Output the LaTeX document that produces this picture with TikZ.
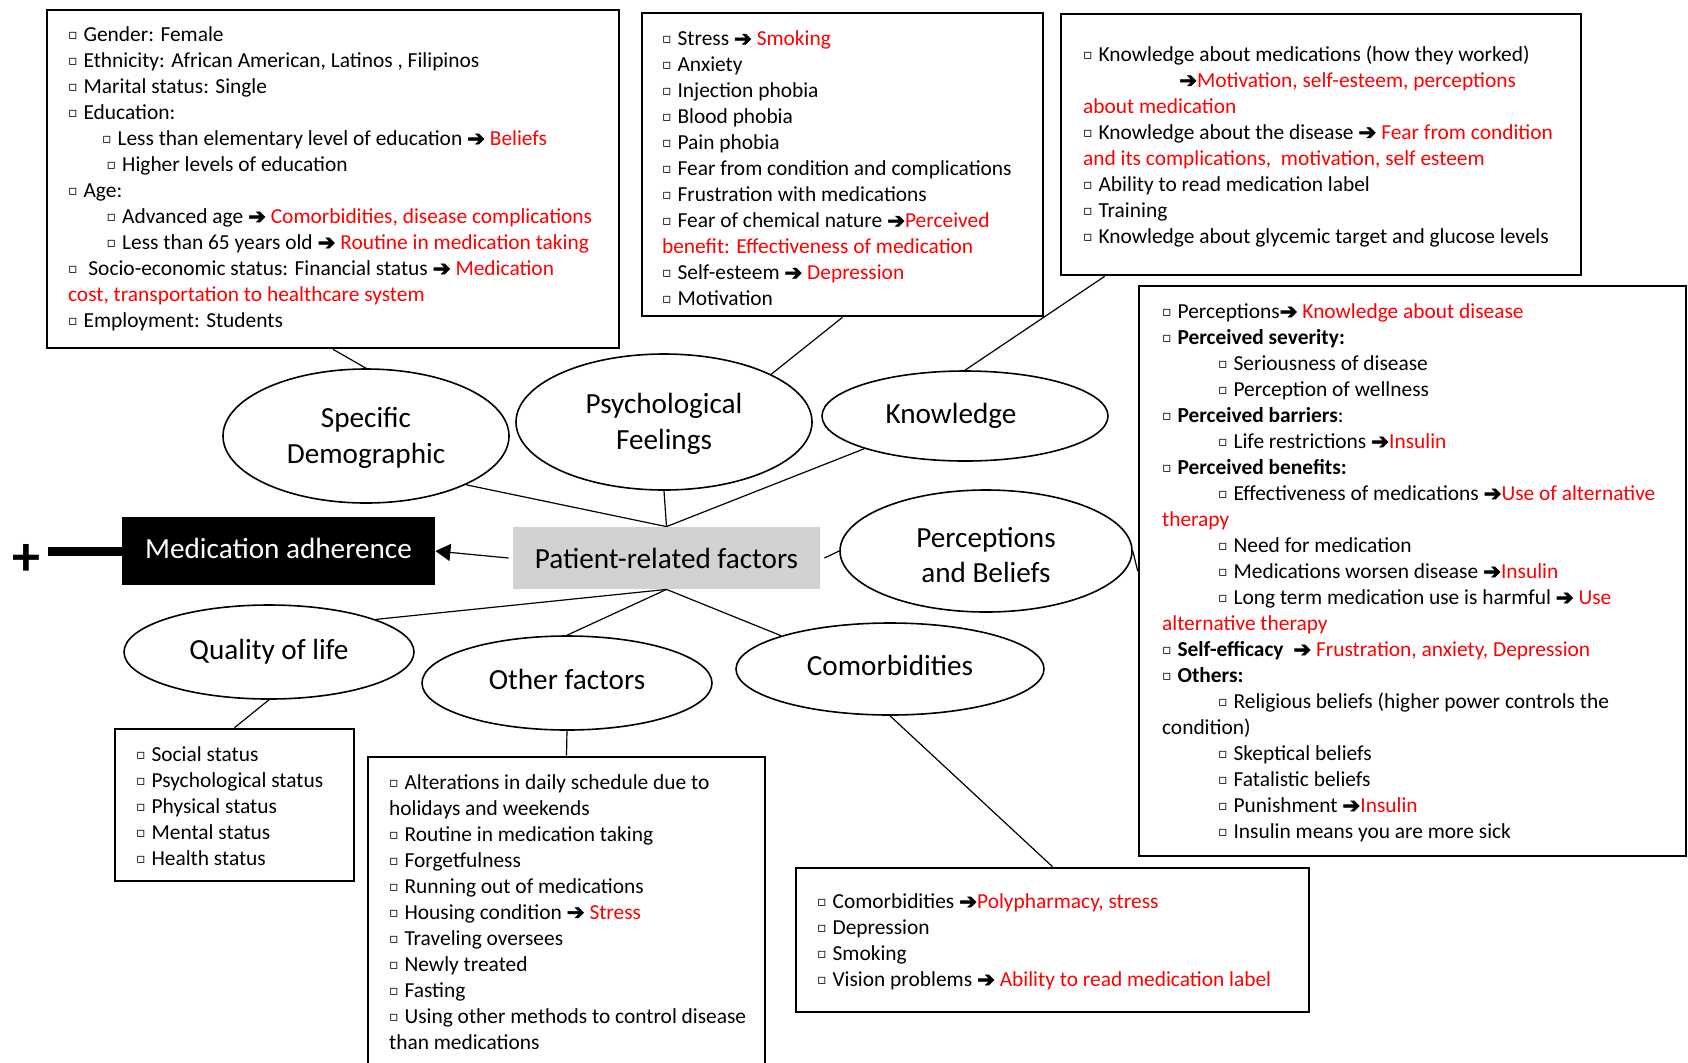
\documentclass[tikz,border=0pt]{standalone}
\usepackage{fontspec}
\usepackage{xcolor}
\usetikzlibrary{shapes.geometric,arrows.meta}
\setmainfont{Carlito}
\newfontfamily\symfont{DejaVu Sans}
\newfontfamily\arrowfont[FakeBold=2.5]{DejaVu Sans}
\definecolor{effred}{RGB}{255,0,0}
\definecolor{hubgray}{RGB}{210,210,210}
\newcommand\sqb{{\symfont\fontsize{7}{7}\selectfont\raisebox{0.25ex}{▫}}\hspace{3pt}}
\newcommand\goes{{\arrowfont ➔}}
\newcommand\eff[1]{\textcolor{effred}{#1}}

\begin{document}
\begin{tikzpicture}[x=0.5pt,y=-0.5pt,
	listbox/.style={draw,rectangle,line width=1.3pt,inner sep=0pt},
	listtext/.style={anchor=west,align=left,inner sep=0pt,yshift=-1pt,font=\fontsize{10.7}{13}\selectfont},
	factor/.style={draw,ellipse,line width=0.8pt,inner sep=0pt,align=center,font=\fontsize{14.6}{17.8}\selectfont},
	link/.style={line width=0.6pt}]
	\useasboundingbox (0,0) rectangle (1688,1062);

	\node[fill=black,text=white,minimum width=156.5pt,minimum height=34pt,font=\fontsize{14.6}{17.8}\selectfont] (adh) at (278.5,551) {Medication adherence\rule[-3pt]{0pt}{1pt}};
	\node[fill=hubgray,minimum width=153.5pt,minimum height=31pt,font=\fontsize{14.6}{17.8}\selectfont] (pat) at (666.5,558) {Patient-related factors};
	\node[inner sep=0pt,font=\fontsize{28}{28}\selectfont\bfseries] (plus) at (26,560) {+};

	\node[factor,minimum width=143pt,minimum height=67pt] (demo) at (366,436) {\rule{0pt}{12pt}Specific\\Demographic};
	\node[factor,minimum width=148pt,minimum height=68pt] (psy) at (664,422) {\rule{0pt}{12pt}Psychological\\Feelings};
	\node[factor,minimum width=143pt,minimum height=45pt] (know) at (965,416) {Knowledge\hspace*{14pt}};
	\node[factor,minimum width=146pt,minimum height=61pt] (perc) at (986,551) {\rule{0pt}{14pt}Perceptions\\and Beliefs};
	\node[factor,minimum width=145pt,minimum height=47pt] (qol) at (269,652) {Quality of life};
	\node[factor,minimum width=145pt,minimum height=47pt] (other) at (567,683) {Other factors\rule[-4pt]{0pt}{1pt}};
	\node[factor,minimum width=154pt,minimum height=46pt] (comor) at (890,669) {Comorbidities\rule[-4pt]{0pt}{1pt}};

	\node[listbox,minimum width=286pt,minimum height=169pt] (demobox) at (333,179) {};
	\node[listtext,yshift=1pt] (demotext) at ([xshift=11pt]demobox.west) {%
		\sqb Gender: Female\\
		\sqb Ethnicity: African American, Latinos , Filipinos\\
		\sqb Marital status: Single\\
		\sqb Education:\\
		\hspace*{17pt}\sqb Less than elementary level of education \goes{} \eff{Beliefs}\\
		\hspace*{19.3pt}\sqb Higher levels of education\\
		\sqb Age:\\
		\hspace*{19.3pt}\sqb Advanced age \goes{} \eff{Comorbidities, disease complications}\\
		\hspace*{19.3pt}\sqb Less than 65 years old \goes{} \eff{Routine in medication taking}\\
		\sqb\ Socio-economic status: Financial status \goes{} \eff{Medication}\\
		\eff{cost, transportation to healthcare system}\\
		\sqb Employment: Students};

	\node[listbox,minimum width=200.5pt,minimum height=151.5pt] (psybox) at (842.5,164.5) {};
	\node[listtext,yshift=-1pt] (psytext) at ([xshift=10.5pt]psybox.west) {%
		\sqb Stress \goes{} \eff{Smoking}\\
		\sqb Anxiety\\
		\sqb Injection phobia\\
		\sqb Blood phobia\\
		\sqb Pain phobia\\
		\sqb Fear from condition and complications\\
		\sqb Frustration with medications\\
		\sqb Fear of chemical nature \goes\eff{Perceived}\\
		\eff{benefit: Effectiveness of medication}\\
		\sqb Self-esteem \goes{} \eff{Depression}\\
		\sqb Motivation};

	\node[listbox,minimum width=260pt,minimum height=130.5pt] (knowbox) at (1321,144.5) {};
	\node[listtext] (knowtext) at ([xshift=11.5pt]knowbox.west) {%
		\sqb Knowledge about medications (how they worked)\\
		\hspace*{48pt}\goes\eff{Motivation, self-esteem, perceptions}\\
		\eff{about medication}\\
		\sqb Knowledge about the disease \goes{} \eff{Fear from condition}\\
		\eff{and its complications,\ \ motivation, self esteem}\\
		\sqb Ability to read medication label\\
		\sqb Training\\
		\sqb Knowledge about glycemic target and glucose levels};

	\node[listbox,minimum width=273.5pt,minimum height=285pt] (percbox) at (1412.5,571) {};
	\node[listtext] (perctext) at ([xshift=12pt]percbox.west) {%
		\sqb Perceptions\goes{} \eff{Knowledge about disease}\\
		\sqb \textbf{Perceived severity:}\\
		\hspace*{28pt}\sqb Seriousness of disease\\
		\hspace*{28pt}\sqb Perception of wellness\\
		\sqb \textbf{Perceived barriers}:\\
		\hspace*{28pt}\sqb Life restrictions \goes\eff{Insulin}\\
		\sqb \textbf{Perceived benefits:}\\
		\hspace*{28pt}\sqb Effectiveness of medications \goes\eff{Use of alternative}\\
		\eff{therapy}\\
		\hspace*{28pt}\sqb Need for medication\\
		\hspace*{28pt}\sqb Medications worsen disease \goes\eff{Insulin}\\
		\hspace*{28pt}\sqb Long term medication use is harmful \goes{} \eff{Use}\\
		\eff{alternative therapy}\\
		\sqb \textbf{Self-efficacy}\ \ \goes{} \eff{Frustration, anxiety, Depression}\\
		\sqb \textbf{Others:}\\
		\hspace*{28pt}\sqb Religious beliefs (higher power controls the\\
		condition)\\
		\hspace*{28pt}\sqb Skeptical beliefs\\
		\hspace*{28pt}\sqb Fatalistic beliefs\\
		\hspace*{28pt}\sqb Punishment \goes\eff{Insulin}\\
		\hspace*{28pt}\sqb Insulin means you are more sick};

	\node[listbox,minimum width=119.5pt,minimum height=76pt] (qolbox) at (234.5,805) {};
	\node[listtext,yshift=0.5pt] (qoltext) at ([xshift=11pt]qolbox.west) {%
		\sqb Social status\\
		\sqb Psychological status\\
		\sqb Physical status\\
		\sqb Mental status\\
		\sqb Health status};

	\node[listbox,minimum width=198.5pt,minimum height=155pt] (otherbox) at (566.5,912) {};
	\node[listtext,yshift=1pt] (othertext) at ([xshift=11pt]otherbox.west) {%
		\sqb Alterations in daily schedule due to\\
		holidays and weekends\\
		\sqb Routine in medication taking\\
		\sqb Forgetfulness\\
		\sqb Running out of medications\\
		\sqb Housing condition \goes{} \eff{Stress}\\
		\sqb Traveling oversees\\
		\sqb Newly treated\\
		\sqb Fasting\\
		\sqb Using other methods to control disease\\
		than medications};

	\node[listbox,minimum width=256.5pt,minimum height=72pt] (comorbox) at (1052.5,940) {};
	\node[listtext] (comortext) at ([xshift=11pt]comorbox.west) {%
		\sqb Comorbidities \goes\eff{Polypharmacy, stress}\\
		\sqb Depression\\
		\sqb Smoking\\
		\sqb Vision problems \goes{} \eff{Ability to read medication label}};

	\draw[link,-{Triangle[length=7.5pt,width=8.5pt]}] ([xshift=-2pt]pat.west) -- (adh.east);
	\draw[line width=4.5pt] (adh.west) -- ++(-37pt,0);
	\draw[link] (pat.north) -- (demo.-26);
	\draw[link] (pat.north) -- (psy.south);
	\draw[link] (pat.north) -- (know.198);
	\draw[link] ([xshift=2pt]pat.east) -- (perc.west);
	\draw[link] (pat.south) -- (qol.17);
	\draw[link] (pat.south) -- (other.north);
	\draw[link] (pat.south) -- (comor.163);

	\draw[link] (demobox.south) -- (demo.north);
	\draw[link] (psybox.south) -- (psy.24);
	\draw[link] ([xshift=22.5pt]knowbox.south west) -- (know.north);
	\draw[link] (perc.east) -- (percbox.west);
	\draw[link] (qol.south) -- (qolbox.north);
	\draw[link] (other.south) -- (otherbox.north);
	\draw[link] (comor.south) -- (comorbox.north);
\end{tikzpicture}
\end{document}
